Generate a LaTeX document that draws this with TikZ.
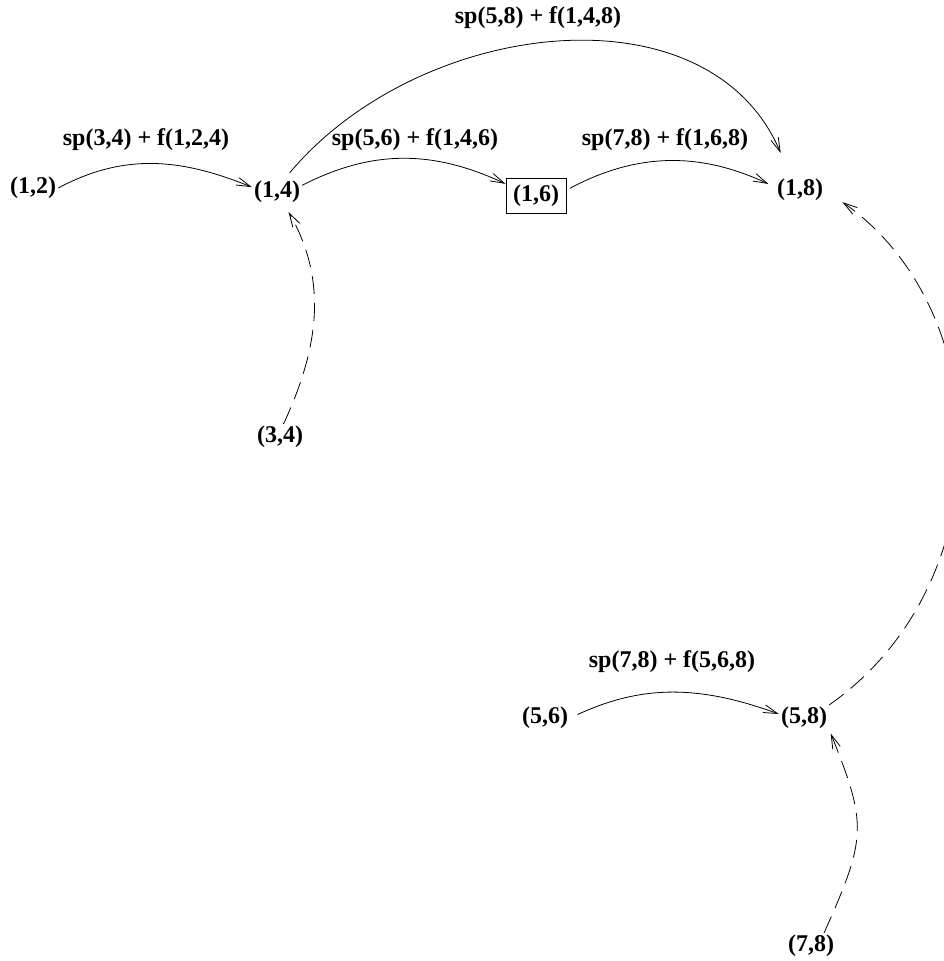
\documentclass[tikz,border=0pt]{standalone}
\usepackage{fontspec}
\setmainfont{Liberation Serif}
\usetikzlibrary{arrows.meta}

\begin{document}
\begin{tikzpicture}[x=1pt,y=-1pt,
  every node/.style={font=\fontsize{24}{28}\selectfont\bfseries},
  vtx/.style={inner sep=2pt},
  boxed/.style={draw, line width=0.8pt, minimum width=60pt, minimum height=35pt, inner sep=0pt},
  lbl/.style={inner sep=0pt},
  edge/.style={line width=0.8pt, -{Straight Barb[length=14pt,width=8pt]}},
  dep/.style={edge, dash pattern=on 18pt off 9pt}
]
\useasboundingbox (0,0) rectangle (943,961);

% states of the table
\node[vtx] (n12) at (33,188) {(1,2)};
\node[vtx] (n14) at (277,192) {(1,4)};
\node[vtx] (n34) at (280,437) {(3,4)};
\node[boxed] (n16) at (536,195.5) {(1,6)};
\node[vtx] (n18) at (800,190) {(1,8)};
\node[vtx] (n56) at (545,718) {(5,6)};
\node[vtx] (n58) at (804,718) {(5,8)};
\node[vtx] (n78) at (811,946) {(7,8)};

% cost labels of the transitions
\node[lbl] (l1) at (146,140) {sp(3,4) + f(1,2,4)};
\node[lbl] (l2) at (415,140) {sp(5,6) + f(1,4,6)};
\node[lbl] (l3) at (665,140) {sp(7,8) + f(1,6,8)};
\node[lbl] (l4) at (538,18) {sp(5,8) + f(1,4,8)};
\node[lbl] (l5) at (672,662) {sp(7,8) + f(5,6,8)};

% transitions
\draw[edge] (n12.east) to[out=28,in=158] (n14.169);
\draw[edge] (n14.15) to[out=27,in=155] (n16.159);
\draw[edge, shorten <=4pt, shorten >=7pt] (n16.10) to[out=28,in=155] (n18.173);
\draw[edge, shorten <=8pt, shorten >=26pt] (n14.60) to[out=50,in=113,looseness=1.06] (n18.125);
\draw[edge, shorten <=8pt] (n56.east) to[out=25,in=160] (n58.171);

% dependencies
\draw[dep, shorten >=8pt] (n34.75) to[out=65,in=-60] (n14.-60);
\draw[dep, shorten >=4pt] (n78.45) to[out=66,in=-68,looseness=1.3] (n58.-25);
\draw[dep, shorten >=21pt] (n58.north east) to[out=35,in=-35,looseness=1.05] (n18.east);
\end{tikzpicture}
\end{document}
